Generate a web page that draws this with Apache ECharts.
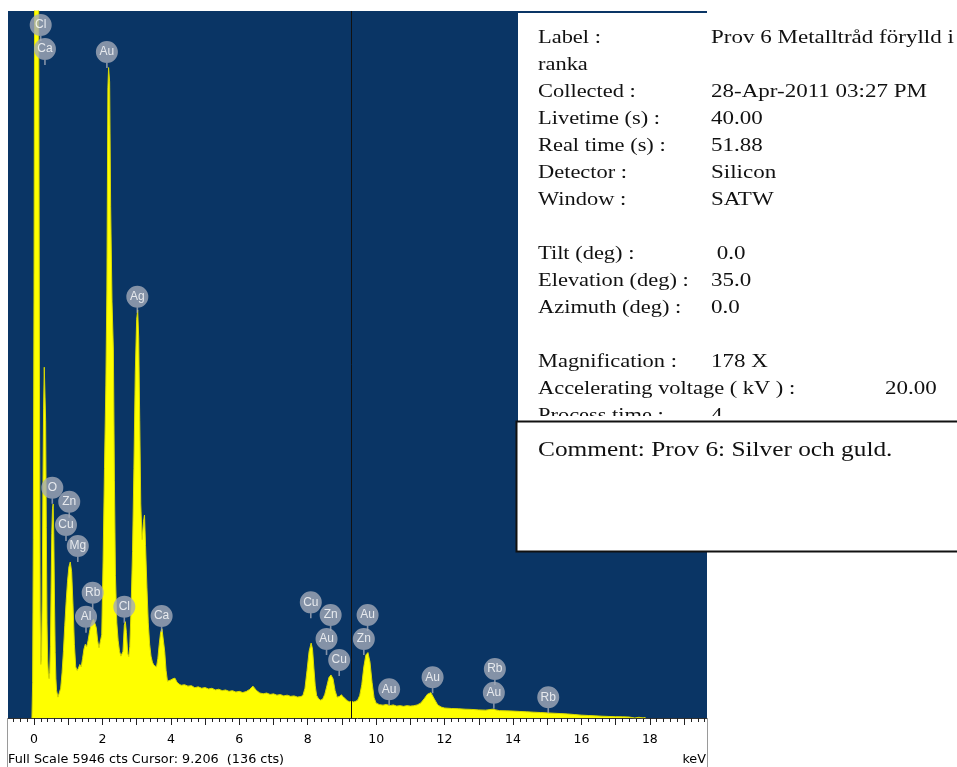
<!DOCTYPE html>
<html>
<head>
<meta charset="utf-8">
<script src="https://cdn.jsdelivr.net/npm/echarts@6/dist/echarts.min.js"></script>
<style>
html,body{margin:0;padding:0;background:#fff;}
#chart{width:957px;height:767px;}
</style>
</head>
<body>
<div id="chart"></div>
<script>
// ---- data ----
const energy = [
-0.06,-0.04,-0.02,0.00,0.02,0.04,0.06,0.08,0.10,0.12,0.14,0.16,0.18,0.20,0.22,0.24,0.26,0.28,0.30,0.32,0.34,0.36,0.38,0.40,0.42,0.44,0.46,
0.48,0.50,0.52,0.54,0.56,0.58,0.60,0.62,0.64,0.66,0.70,0.74,
0.78,0.82,0.86,0.90,0.94,0.98,1.02,1.06,1.10,1.14,1.18,1.22,1.26,1.30,1.34,1.38,1.42,1.46,1.50,1.54,1.58,1.62,1.66,1.70,1.74,1.78,1.82,1.86,1.90,1.94,1.98,
2.02,2.06,2.10,2.13,2.16,2.18,2.21,2.24,2.28,2.32,2.35,2.38,2.42,2.46,2.50,2.54,2.57,2.60,2.64,2.67,2.70,2.74,2.77,2.80,2.84,
2.88,2.92,2.96,3.00,3.03,3.06,3.09,3.12,3.16,3.20,3.23,3.26,3.30,3.34,3.38,3.42,3.46,3.50,3.54,3.58,3.62,3.66,3.70,3.74,3.78,3.82,3.86,3.90,3.94,4.00,4.06,4.12,4.18,4.24,
4.3,4.4,4.5,4.6,4.7,4.8,4.9,5.0,5.1,5.2,5.3,5.4,5.5,5.6,5.7,5.8,5.9,6.0,6.1,6.2,6.3,6.4,6.5,6.6,6.7,6.8,6.9,7.0,7.1,7.2,7.3,7.4,7.5,7.6,7.7,7.8,
7.86,7.92,7.98,8.04,8.10,8.14,8.18,8.22,8.26,8.32,8.38,8.44,8.50,8.56,8.62,8.68,8.74,8.80,8.86,8.92,8.98,9.04,9.10,9.16,9.22,9.28,9.34,9.40,9.46,9.52,9.58,9.64,9.70,9.76,9.82,9.88,9.94,
10.0,10.1,10.2,10.3,10.4,10.5,10.6,10.7,10.8,10.9,11.0,11.1,11.2,11.3,11.4,11.5,11.6,11.7,11.8,11.9,
12.0,12.2,12.4,12.6,12.8,13.0,13.2,13.4,13.5,13.6,13.8,14.0,14.2,14.4,14.6,14.8,15.0,15.2,15.4,15.6,15.8,16.0,16.2,16.4,16.6,16.8,17.0,17.2,17.4,17.42,17.56,17.58,17.68,17.70,17.80,17.82,17.86,17.88
];
const counts = [
0,300,1500,3600,6500,8500,9500,9800,9500,8000,5500,2800,900,450,520,1000,1900,2600,2950,2960,2500,1600,800,480,370,330,380,
600,1100,1550,1760,1800,1500,950,550,330,230,175,190,
250,380,560,780,980,1150,1270,1312,1230,950,620,430,400,420,450,430,500,580,620,600,650,720,780,810,830,845,760,650,590,575,700,
1330,2100,2800,3600,5300,5470,5350,4300,3500,3095,2000,1200,800,650,560,520,505,560,780,810,720,540,515,600,950,
1400,2100,2900,3350,3431,3200,2500,1800,1500,1650,1707,1450,1100,800,620,520,470,445,430,429,500,620,720,750,735,560,400,310,300,320,330,335,300,285,
275,280,268,272,255,262,250,256,244,250,236,242,230,236,224,230,218,224,214,222,240,268,232,210,204,210,198,203,192,197,186,192,182,186,176,180,
190,250,400,560,630,580,420,270,190,160,150,160,200,270,340,362,330,230,175,180,195,178,160,145,136,140,134,140,150,190,280,430,530,550,470,300,170,
125,112,108,114,104,110,100,104,98,104,100,103,110,125,160,200,213,160,110,92,
84,80,78,74,72,68,66,74,68,62,60,58,55,52,49,46,43,40,37,34,29,24,21,18,15,13,11,10,8,0,0,6,6,0,0,5,5,0
];
// element marker balloons: name, energy of the pointer tip, count level of the tip
const markerNames  = ['Cl','Ca','Au','Ag','O','Zn','Cu','Mg','Rb','Al','Cl','Ca','Cu','Zn','Au','Cu','Au','Zn','Au','Au','Rb','Au','Rb'];
const markerEnergy = [0.196,0.32,2.13,3.02,0.535,1.03,0.935,1.28,1.715,1.52,2.64,3.73,8.09,8.67,8.55,8.92,9.75,9.64,10.38,11.65,13.47,13.44,15.03];
const markerCounts = [5694,5492,5466,3409,1802,1684,1489,1312,919,717,801,723,838,732,530,353,732,530,107,208,278,78,40];

const fullScale = 5946;
const cursorLineEnergy = 9.26;
const tickLabels = [0,2,4,6,8,10,12,14,16,18];
const footerText = 'Full Scale 5946 cts Cursor: 9.206  (136 cts)';
const unitText = 'keV';

const panelRows = [
  ['Label :', 'Prov 6 Metalltråd förylld i'],
  ['ranka', ''],
  ['Collected :', '28-Apr-2011 03:27 PM'],
  ['Livetime (s) :', '40.00'],
  ['Real time (s) :', '51.88'],
  ['Detector :', 'Silicon'],
  ['Window :', 'SATW'],
  ['', ''],
  ['Tilt (deg) :', ' 0.0'],
  ['Elevation (deg) :', '35.0'],
  ['Azimuth (deg) :', '0.0'],
  ['', ''],
  ['Magnification :', '178 X'],
  ['Accelerating voltage ( kV ) :', '20.00'],
  ['Process time :', '4']
];
const commentText = 'Comment: Prov 6: Silver och guld.';

// ---- build ----
const xMin = -0.76, xMax = 19.67;
const minorTicks = [];
for (let i = -3; i <= 98; i++) minorTicks.push(+(i * 0.2).toFixed(2));
const majorTicks = [];
for (let i = 0; i <= 19; i++) majorTicks.push(i);

const spectrum = energy.map((e, i) => [e, counts[i]]);
const markers = markerNames.map((n, i) => [markerEnergy[i], markerCounts[i], n]);

const serif = '"Liberation Serif", "Times New Roman", serif';
const graphics = [];
graphics.push({type:'rect', z:100, shape:{x:518, y:13, width:439, height:404}, style:{fill:'#fff'}});
const rowTop = 47.5, rowStep = 27.0, fs = 19.5;
panelRows.forEach((r, i) => {
  const base = rowTop + rowStep * i;
  if (r[0]) graphics.push({type:'text', z:101, x:538, y:base, scaleX:1.15,
    style:{text:r[0], font: fs + 'px ' + serif, fill:'#111', verticalAlign:'bottom', lineHeight: fs}});
  if (r[1]) {
    const vx = r[0].indexOf('Accelerating') === 0 ? 885 : 711;
    graphics.push({type:'text', z:101, x:vx, y:base, scaleX:1.18,
      style:{text:r[1], font: fs + 'px ' + serif, fill:'#111', verticalAlign:'bottom', lineHeight: fs}});
  }
});
graphics.push({type:'rect', z:102, shape:{x:518, y:416, width:439, height:6}, style:{fill:'#fff'}});
graphics.push({type:'rect', z:103, shape:{x:516.5, y:421.5, width:460, height:130}, style:{fill:'#fff', stroke:'#111', lineWidth:2}});
graphics.push({type:'text', z:104, x:538, y:461, scaleX:1.235,
  style:{text:commentText, font:'20.5px ' + serif, fill:'#111', verticalAlign:'bottom', lineHeight:20.5}});
graphics.push({type:'text', z:50, x:8, y:766, style:{text:footerText, font:'12.8px "DejaVu Sans", sans-serif', fill:'#000', verticalAlign:'bottom'}});
graphics.push({type:'text', z:50, x:706, y:766, style:{text:unitText, font:'12.8px "DejaVu Sans", sans-serif', fill:'#000', align:'right', verticalAlign:'bottom'}});
graphics.push({type:'line', z:50, shape:{x1:7.5, y1:718, x2:7.5, y2:767}, style:{stroke:'#9a9a9a', lineWidth:1}});
graphics.push({type:'line', z:50, shape:{x1:707.5, y1:718, x2:707.5, y2:767}, style:{stroke:'#9a9a9a', lineWidth:1}});

// circle (d=22) with a short pointer stalk below
const balloonPath = 'path://M11 0 A11 11 0 1 1 11 22 A11 11 0 1 1 11 0 Z M10.2 21 L11.8 21 L11.8 27 L10.2 27 Z';

const chart = echarts.init(document.getElementById('chart'), null, {renderer:'canvas'});
chart.setOption({
  animation: false,
  backgroundColor: '#ffffff',
  grid: {left:8, top:11, width:699, height:707, show:true, backgroundColor:'#0a3565', borderWidth:0},
  xAxis: [
    {type:'value', min:xMin, max:xMax, position:'bottom',
     axisLine:{show:true, lineStyle:{color:'#333', width:1}},
     axisTick:{show:true, customValues:minorTicks, length:4, lineStyle:{color:'#222'}},
     axisLabel:{show:true, customValues:tickLabels, color:'#000', fontSize:12.5, fontFamily:'"DejaVu Sans", sans-serif', margin:15},
     splitLine:{show:false}},
    {type:'value', min:xMin, max:xMax, position:'bottom',
     axisLine:{show:false},
     axisTick:{show:true, customValues:majorTicks, length:7, lineStyle:{color:'#222'}},
     axisLabel:{show:false}, splitLine:{show:false}}
  ],
  yAxis: {type:'value', min:0, max:fullScale, show:false, splitLine:{show:false}},
  series: [
    {type:'line', xAxisIndex:0, data:spectrum, showSymbol:false, symbol:'none', clip:true,
     lineStyle:{color:'#d9d900', width:1}, areaStyle:{color:'#ffff00', opacity:1}, z:2,
     markLine:{silent:true, symbol:'none', label:{show:false},
       lineStyle:{color:'#111', width:1, type:'solid'}, data:[{xAxis:cursorLineEnergy}]}},
    {type:'scatter', xAxisIndex:0, data:markers, symbol:balloonPath, symbolSize:[22,27], symbolOffset:[0,'-50%'],
     itemStyle:{color:'#a2aab8'}, z:5, clip:false,
     label:{show:true, position:'inside', offset:[0,-2.5], formatter: p => p.value[2], color:'#fff', fontSize:12, fontFamily:'"Liberation Sans", Arial, sans-serif'}}
  ],
  graphic: graphics
});
</script>
</body>
</html>
